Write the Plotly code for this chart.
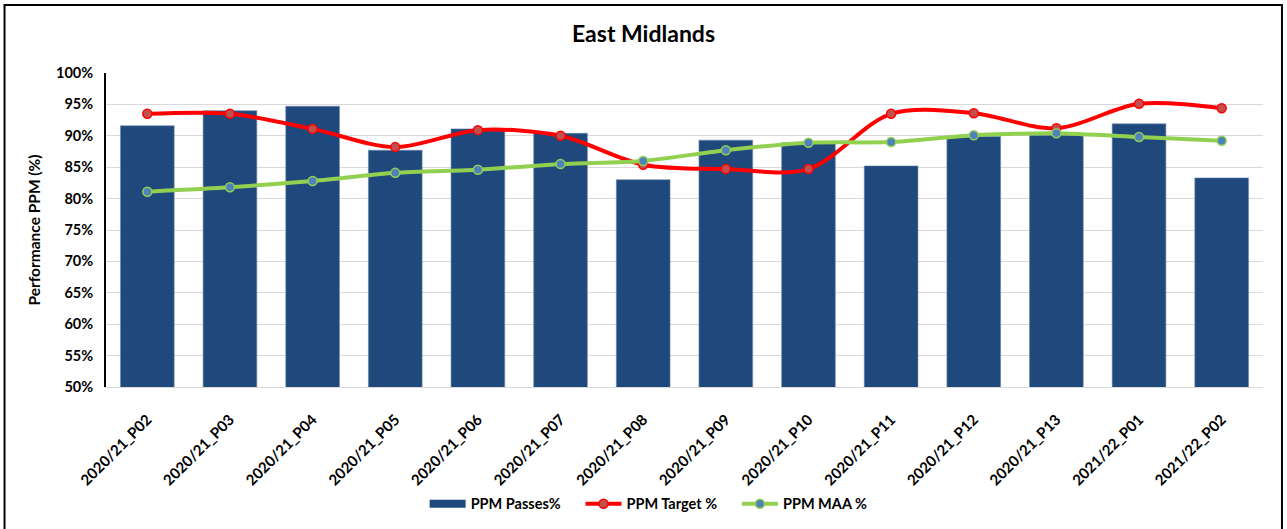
import plotly.graph_objects as go

periods = ["2020/21_P02", "2020/21_P03", "2020/21_P04", "2020/21_P05", "2020/21_P06",
           "2020/21_P07", "2020/21_P08", "2020/21_P09", "2020/21_P10", "2020/21_P11",
           "2020/21_P12", "2020/21_P13", "2021/22_P01", "2021/22_P02"]
passes = [91.6, 94.0, 94.7, 87.7, 91.1, 90.4, 83.0, 89.3, 88.9, 85.2, 89.9, 90.1, 91.9, 83.3]
target = [93.5, 93.5, 91.1, 88.2, 90.9, 90.0, 85.4, 84.7, 84.7, 93.5, 93.6, 91.2, 95.1, 94.4]
maa = [81.1, 81.8, 82.8, 84.1, 84.6, 85.5, 86.0, 87.7, 88.9, 89.0, 90.1, 90.4, 89.8, 89.2]
y_ticks = [50, 55, 60, 65, 70, 75, 80, 85, 90, 95, 100]

FONT = "Lato, 'Open Sans', Arial, sans-serif"
BAR_COLOR = "#1F497D"
NBSP = "\u00a0"

fig = go.Figure()
fig.add_trace(go.Bar(
    x=periods, y=passes, name="PPM Passes%", showlegend=False,
    marker=dict(color=BAR_COLOR, line=dict(width=0.6, color="#6F88AA")),
))
# legend proxy for bars (wide rectangle symbol)
fig.add_trace(go.Scatter(
    x=[periods[0]], y=[None], mode="lines", name="<b>PPM Passes%</b>" + NBSP * 4,
    line=dict(color=BAR_COLOR, width=8),
))
fig.add_trace(go.Scatter(
    x=periods, y=target, name="<b>PPM Target %</b>" + NBSP * 4, mode="lines+markers",
    line=dict(color="#FF0000", width=4, shape="spline", smoothing=0.9),
    marker=dict(size=9, color="#C0504D", line=dict(color="#FF0000", width=1.5)),
))
fig.add_trace(go.Scatter(
    x=periods, y=maa, name="<b>PPM MAA %</b>", mode="lines+markers",
    line=dict(color="#92D050", width=4, shape="spline", smoothing=0.6),
    marker=dict(size=9, color="#4F81BD", line=dict(color="#92D050", width=1.5)),
))

# outer chart frame
fig.add_shape(type="rect", xref="paper", yref="paper",
              x0=-0.0877, x1=1.0164, y0=-0.47, y1=1.2166,
              line=dict(color="black", width=2), fillcolor="rgba(0,0,0,0)", layer="above")

fig.update_layout(
    width=1287, height=529,
    margin=dict(l=106, r=24, t=73, b=142, autoexpand=False),
    paper_bgcolor="white", plot_bgcolor="white",
    font=dict(family=FONT, color="black"),
    title=dict(text="<b>East Midlands</b>", x=0.5, xanchor="center", y=0.935, yanchor="middle",
               font=dict(size=23, family=FONT, color="black")),
    bargap=0.35,
    showlegend=True,
    legend=dict(orientation="h", x=0.469, xanchor="center", y=-0.372, yanchor="middle",
                font=dict(size=14.5, family=FONT, color="black"), traceorder="normal",
                itemwidth=36),
)
fig.update_xaxes(
    type="category", range=[-0.5, len(periods) - 0.5], automargin=False,
    tickangle=-45, tickfont=dict(size=15, family=FONT, color="black"),
    showline=True, linecolor="#D9D9D9", linewidth=1, showgrid=False,
    ticks="", tickprefix="<b>", ticksuffix="</b>", ticklabelstandoff=17,
)
fig.update_yaxes(
    range=[50, 100], tickvals=y_ticks, ticktext=[f"<b>{v}%</b>" for v in y_ticks],
    automargin=False,
    tickfont=dict(size=14.5, family=FONT, color="black"),
    showgrid=True, gridcolor="#D9D9D9", gridwidth=1,
    showline=True, linecolor="black", linewidth=2, zeroline=False, ticklabelstandoff=8,
    title=dict(text="<b>Performance PPM (%)</b>", font=dict(size=15.5, family=FONT, color="black"), standoff=12),
)

fig.write_html("out.html", config={"displayModeBar": False},
               post_script="document.body.style.margin='0px';document.body.style.overflow='hidden';")
